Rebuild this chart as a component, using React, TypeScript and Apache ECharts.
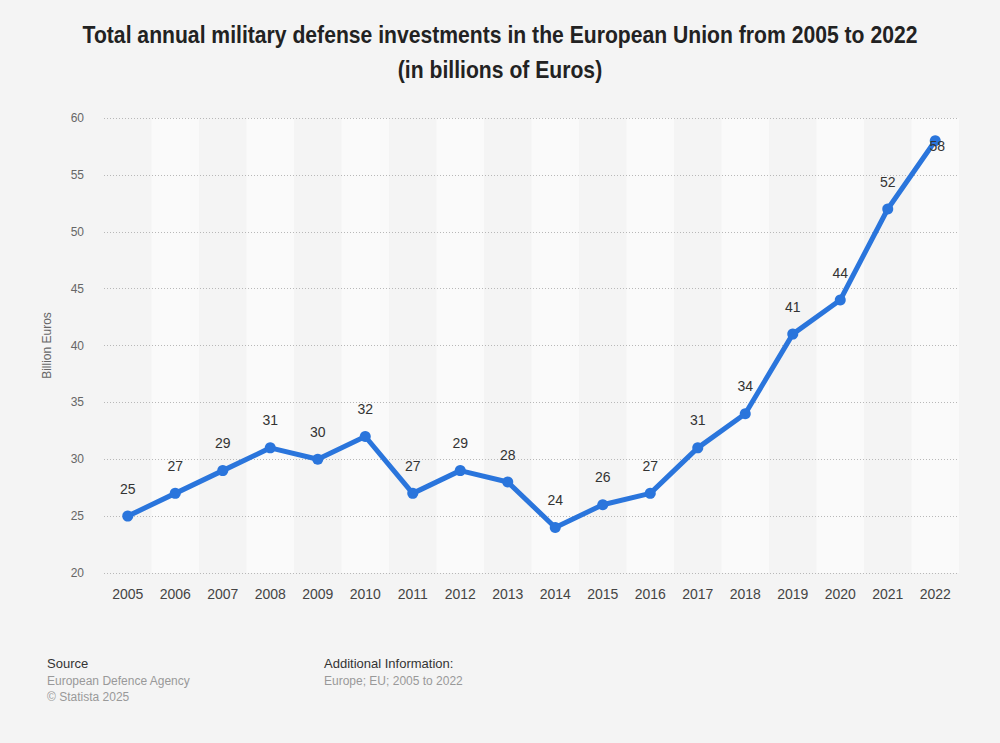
import React, { useEffect, useRef } from "react";
import * as echarts from "echarts";

const years = ["2005","2006","2007","2008","2009","2010","2011","2012","2013","2014","2015","2016","2017","2018","2019","2020","2021","2022"];
const values = [25, 27, 29, 31, 30, 32, 27, 29, 28, 24, 26, 27, 31, 34, 41, 44, 52, 58];
const yTicks = { min: 20, max: 60, interval: 5 };
const titleLines = [
  "Total annual military defense investments in the European Union from 2005 to 2022",
  "(in billions of Euros)",
];

export default function App() {
  const ref = useRef<HTMLDivElement>(null);
  useEffect(() => {
    document.body.style.margin = "0";
    document.body.style.background = "#f4f4f4";
    const chart = echarts.init(ref.current!, null, { renderer: "svg" });
    const font = "'Liberation Sans', Arial, sans-serif";
    const data = values.map((v, i) =>
      i === values.length - 1
        ? { value: v, label: { position: "inside", offset: [2, 5] } }
        : v
    );
    chart.setOption({
      animation: false,
      backgroundColor: "#f4f4f4",
      grid: { left: 104, right: 41, top: 118, bottom: 170 },
      xAxis: {
        type: "category",
        data: years,
        boundaryGap: true,
        axisLine: { show: false },
        axisTick: { show: false },
        axisLabel: { color: "#444", fontSize: 14, margin: 14, fontFamily: font },
        splitArea: { show: true, areaStyle: { color: ["#f4f4f4", "#fafafa"] } },
      },
      yAxis: {
        type: "value",
        z: 1,
        min: yTicks.min,
        max: yTicks.max,
        interval: yTicks.interval,
        name: "Billion Euros",
        nameLocation: "middle",
        nameGap: 51,
        nameTextStyle: { color: "#666", fontSize: 12, fontFamily: font },
        axisLine: { show: false },
        axisTick: { show: false },
        axisLabel: { color: "#666", fontSize: 12, margin: 20, fontFamily: font },
        splitLine: { lineStyle: { color: "#b8b8b8", type: [1, 2], width: 1 } },
      },
      series: [
        {
          type: "line",
          z: 3,
          data,
          symbol: "circle",
          symbolSize: 11,
          lineStyle: { color: "#2a75dc", width: 5 },
          itemStyle: { color: "#2a75dc" },
          label: {
            show: true,
            position: "top",
            distance: 15,
            color: "#333",
            fontSize: 14,
            fontFamily: font,
          },
        },
      ],
      graphic: [
        {
          type: "text", x: 500, y: 35, scaleX: 0.92,
          style: { text: titleLines[0], fontSize: 23, fontWeight: "bold", fill: "#222", fontFamily: font, align: "center", verticalAlign: "middle" },
        },
        {
          type: "text", x: 500, y: 70, scaleX: 0.92,
          style: { text: titleLines[1], fontSize: 23, fontWeight: "bold", fill: "#222", fontFamily: font, align: "center", verticalAlign: "middle" },
        },
        { type: "text", left: 47, top: 657, style: { text: "Source", fontSize: 13, fill: "#333", fontFamily: font } },
        { type: "text", left: 47, top: 675, style: { text: "European Defence Agency", fontSize: 12, fill: "#999", fontFamily: font } },
        { type: "text", left: 47, top: 691, style: { text: "© Statista 2025", fontSize: 12, fill: "#999", fontFamily: font } },
        { type: "text", left: 324, top: 657, style: { text: "Additional Information:", fontSize: 13, fill: "#333", fontFamily: font } },
        { type: "text", left: 324, top: 675, style: { text: "Europe; EU; 2005 to 2022", fontSize: 12, fill: "#999", fontFamily: font } },
      ],
    });
    return () => chart.dispose();
  }, []);
  return <div ref={ref} style={{ width: 1000, height: 743 }} />;
}
